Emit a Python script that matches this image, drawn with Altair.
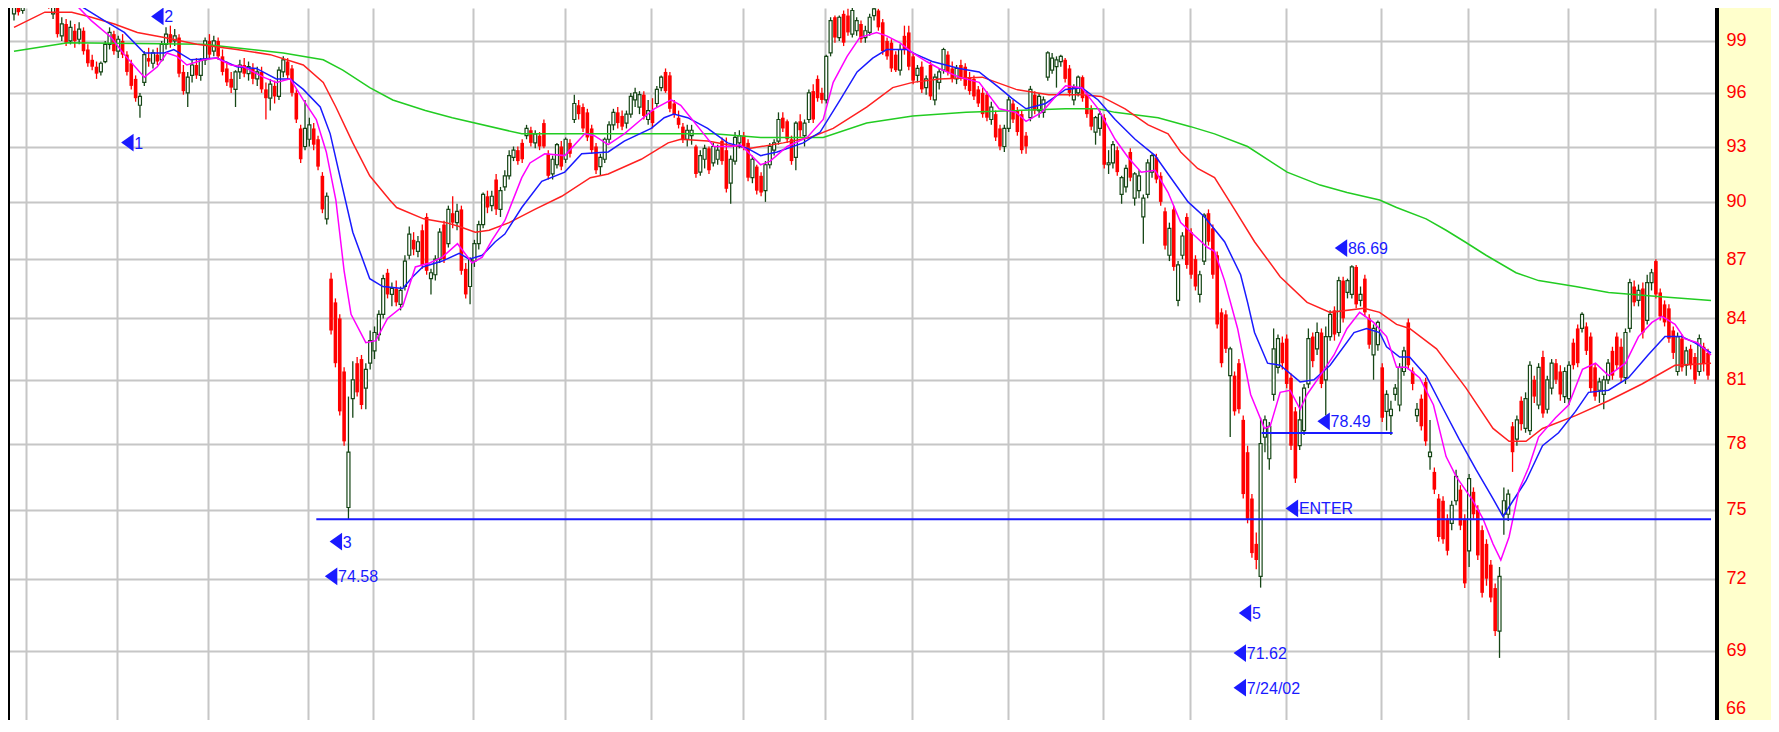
import altair as alt
import pandas as pd

# ---------------- data ----------------
opens = [100.6,101.0,100.8,101.6,102.2,102.5,102.0,102.4,101.8,100.6,101.1,99.3,100.0,99.0,99.6,99.1,99.6,98.5,97.9,97.5,
97.2,97.8,98.8,99.4,98.4,99.0,98.2,97.7,96.8,95.3,96.6,98.0,97.7,98.2,97.9,98.8,99.4,99.0,99.2,97.2,
96.0,97.0,97.6,97.0,97.9,99.0,98.4,99.0,98.1,97.4,96.8,96.2,97.2,97.6,97.1,97.4,96.8,97.2,96.2,95.7,
96.4,95.8,97.2,97.8,97.4,96.0,94.0,93.0,93.4,94.0,93.4,91.4,89.1,86.0,84.8,84.0,81.4,75.1,80.1,81.8,
82.0,80.6,81.8,82.4,83.2,84.2,86.3,85.2,85.5,84.7,85.6,87.2,88.0,87.4,88.5,89.2,86.0,86.2,87.0,88.8,
87.8,89.4,88.9,89.6,86.5,85.6,86.9,87.8,88.8,90.3,89.8,91.2,89.6,90.8,91.4,92.4,92.8,93.2,93.6,93.9,
93.2,93.6,94.3,92.6,91.5,92.0,93.0,92.3,93.2,94.5,95.3,95.2,94.9,94.0,93.0,91.9,92.3,93.4,94.2,94.9,
94.7,94.3,94.8,95.6,95.2,95.9,94.5,95.0,95.4,96.3,97.2,97.0,95.4,94.6,94.1,93.4,93.6,93.0,91.6,92.3,
92.9,92.1,92.3,93.3,92.8,91.0,92.2,93.2,93.6,93.2,91.3,91.9,91.4,90.6,92.0,92.8,93.3,94.6,94.4,93.4,
92.4,94.4,93.6,94.5,96.1,96.8,96.0,95.6,98.3,100.4,99.2,100.6,100.5,99.4,99.6,100.0,99.2,99.5,100.5,100.8,
100.1,99.0,98.9,98.2,97.3,99.3,99.5,98.1,97.0,97.5,96.3,97.6,95.6,96.6,97.3,98.2,97.4,96.8,97.6,97.5,
96.9,96.8,96.2,96.0,95.9,94.5,94.8,94.0,93.0,94.0,95.4,95.0,94.8,93.6,94.6,95.9,95.0,94.9,96.9,97.3,
97.5,97.8,97.9,97.4,95.6,96.0,96.9,95.9,95.1,93.8,94.0,94.6,92.0,92.1,92.8,90.4,90.8,92.7,90.2,90.6,
89.2,90.4,91.6,92.4,91.4,89.5,87.2,89.6,84.9,87.2,89.2,88.4,87.0,85.2,86.9,89.4,88.6,87.2,84.3,84.2,
81.2,81.2,81.8,79.1,77.6,75.5,73.5,72.1,78.3,77.3,80.3,81.6,82.8,83.0,81.1,79.5,77.9,78.6,80.8,83.1,
82.5,83.3,81.0,83.1,84.4,83.3,85.9,85.3,85.2,86.6,84.9,86.0,84.0,82.2,82.7,81.6,79.5,79.3,80.3,79.8,
81.4,83.8,81.4,79.3,80.1,80.9,77.4,76.7,75.5,75.4,74.6,74.4,75.4,75.9,74.6,73.2,75.8,75.0,74.1,73.5,
72.6,71.6,69.8,74.8,74.8,78.8,78.2,80.0,78.7,78.6,81.0,79.8,82.1,79.6,80.6,81.8,81.4,80.2,80.1,82.8,
83.5,83.5,83.6,83.1,81.6,80.5,80.3,81.0,82.4,83.1,82.6,81.1,83.5,85.6,84.9,85.5,83.9,85.8,86.9,85.3,
84.7,84.5,83.4,81.4,83.0,81.7,82.5,82.1,81.4,82.6,82.3]
highs = [101.6,101.8,102.0,102.6,103.0,103.2,102.8,102.9,102.2,101.6,101.3,100.4,100.3,100.2,100.0,100.1,99.8,98.8,98.2,97.8,
97.8,99.0,99.8,99.6,99.3,99.4,98.4,97.9,97.0,96.0,98.4,98.6,98.5,98.6,99.0,99.8,99.9,99.7,99.4,97.6,
97.2,97.9,98.0,98.0,99.2,99.4,99.3,99.2,98.5,97.8,97.2,97.3,97.9,98.0,97.8,97.7,97.5,97.5,96.6,96.8,
96.7,97.5,98.1,98.0,97.6,96.2,94.2,95.6,94.6,94.3,93.6,91.6,90.5,86.3,85.0,84.2,81.6,80.2,81.9,82.1,
82.2,81.8,83.4,83.6,84.4,86.2,86.5,85.8,85.9,85.6,87.2,88.7,88.4,88.2,88.8,89.4,86.5,87.2,88.6,89.0,
89.8,90.3,89.9,89.8,86.8,87.1,88.0,89.0,90.5,90.6,90.6,91.5,90.8,91.7,92.8,93.0,93.0,93.4,94.2,94.1,
93.9,93.8,94.5,92.8,92.5,93.2,93.3,93.5,93.4,95.9,95.6,95.4,95.1,94.2,93.2,92.6,93.5,94.4,95.1,95.2,
95.0,95.0,96.0,96.3,96.1,96.1,95.6,95.7,96.4,97.0,97.4,97.2,95.6,95.0,94.3,94.2,94.2,93.1,92.8,93.1,
93.0,93.2,93.1,93.5,93.5,92.5,93.8,93.9,93.8,93.4,92.5,92.0,91.6,92.2,93.2,93.4,94.9,94.9,94.5,93.6,
94.4,94.8,94.5,96.2,96.5,97.0,96.3,98.2,100.4,100.5,100.5,100.8,100.9,101.0,100.4,100.2,99.9,100.6,101.1,100.9,
100.3,99.2,99.1,98.4,98.8,99.9,99.9,98.3,97.6,97.8,97.0,97.8,97.1,97.4,98.6,98.4,97.8,97.6,97.9,97.7,
97.2,97.0,96.4,96.3,96.1,95.5,95.0,94.2,94.2,95.8,95.6,95.2,95.0,93.8,96.4,96.1,96.0,95.8,98.4,98.3,
98.1,98.2,98.0,97.6,96.5,97.0,97.0,96.1,95.3,94.7,95.0,94.8,92.8,93.3,93.0,91.4,92.0,92.9,91.6,91.7,
90.4,92.3,92.6,92.6,91.6,89.7,88.9,89.8,86.9,88.4,89.4,88.6,87.2,86.4,89.4,89.6,88.8,87.4,84.5,84.4,
82.6,81.4,82.0,79.3,77.9,75.7,74.0,79.2,79.3,79.0,83.5,83.2,83.1,83.2,81.3,79.7,80.2,80.8,83.5,83.3,
83.8,83.5,83.6,84.4,84.6,86.1,86.1,86.0,86.69,86.7,85.6,86.2,84.2,83.7,83.9,81.8,80.5,80.0,80.8,81.8,
82.6,84.0,81.6,79.9,80.3,81.1,79.1,76.9,75.7,75.6,74.8,75.4,76.8,76.1,74.8,76.6,76.0,75.2,74.3,73.7,
72.8,71.8,72.5,76.0,75.9,79.0,79.3,80.2,80.4,81.9,81.2,81.8,82.4,81.2,82.0,82.0,81.7,81.6,81.9,83.0,
83.7,84.3,83.8,83.3,81.8,81.1,81.2,82.0,82.6,83.3,83.0,83.5,86.0,85.9,85.7,85.8,86.2,86.5,87.0,85.5,
84.9,84.7,83.6,83.3,83.2,82.6,82.7,82.3,83.2,82.8,82.5]
lows = [100.2,100.5,100.6,101.2,101.8,101.9,101.5,101.6,100.9,100.3,99.2,99.0,98.7,98.8,98.6,98.8,98.2,97.5,97.3,96.8,
97.0,97.7,98.5,98.2,98.0,98.0,97.0,96.2,95.5,94.6,96.4,97.5,97.4,97.6,97.8,98.5,98.6,98.7,96.9,95.9,
95.2,96.6,96.8,96.7,97.6,98.0,98.1,97.9,97.0,96.4,96.0,95.2,96.8,96.9,96.7,96.5,96.4,96.0,94.5,95.0,
95.4,95.6,96.9,96.8,95.8,94.3,92.1,92.8,93.0,92.8,91.7,89.4,88.8,83.2,81.6,79.3,77.9,74.58,79.2,80.2,
79.6,79.6,81.5,82.0,82.9,84.0,85.0,84.6,84.6,84.4,85.4,87.0,87.2,87.1,86.5,86.2,85.2,85.9,86.8,86.8,
87.6,88.6,88.5,86.2,85.0,84.7,86.6,87.5,88.6,89.4,89.5,89.3,89.2,90.6,91.2,92.2,92.0,92.1,93.4,93.0,
92.9,92.8,92.9,91.2,91.2,91.8,91.7,92.1,92.4,94.3,94.5,93.8,93.3,92.6,91.5,91.4,92.1,93.2,93.9,94.0,
93.9,94.0,94.6,95.2,94.8,94.5,94.2,94.0,95.2,96.1,96.0,94.9,94.6,94.0,93.2,93.0,93.1,91.3,91.4,91.8,
91.5,91.9,92.0,92.0,90.5,89.9,92.0,92.9,92.8,91.1,91.0,90.4,90.3,90.0,91.8,92.5,93.1,93.8,93.2,92.0,
91.7,93.5,93.0,94.3,94.3,95.5,95.4,95.4,98.1,98.9,99.0,98.7,99.3,99.2,99.3,98.9,98.9,99.3,100.2,99.6,
98.2,97.9,97.2,97.2,97.0,98.2,97.3,96.5,96.6,96.0,95.9,95.6,95.3,96.2,97.1,97.0,96.6,96.5,96.7,96.2,
95.9,95.6,95.2,94.6,94.4,94.2,93.3,92.8,92.7,93.8,94.3,93.6,92.6,92.6,94.4,94.8,94.6,94.6,96.7,97.1,
96.3,97.5,96.6,95.8,95.3,95.8,95.5,94.6,93.9,93.1,93.6,91.8,91.5,91.8,91.4,89.9,90.5,91.1,89.8,90.2,
87.8,90.2,91.3,91.0,89.8,87.5,86.9,86.4,84.6,87.0,86.5,86.0,85.4,84.8,86.7,87.7,86.0,83.5,81.6,82.3,
78.3,79.3,79.4,75.5,74.4,72.9,72.4,71.62,77.6,76.8,80.0,81.3,81.5,80.6,77.7,76.2,77.7,78.4,80.6,81.6,
82.2,80.6,79.3,82.9,82.9,83.1,83.8,85.0,85.0,84.5,84.6,84.1,82.5,81.0,82.4,79.0,78.6,78.4,80.0,79.5,
81.2,81.5,80.5,79.0,78.6,77.9,76.8,75.7,73.6,73.5,73.0,74.1,75.2,74.1,71.6,72.5,74.6,72.8,71.2,71.7,
71.0,69.6,68.7,73.9,74.5,76.7,77.9,78.6,78.5,78.4,79.9,79.6,79.2,79.4,80.3,80.8,80.0,79.9,79.8,81.5,
81.6,83.3,82.2,80.4,80.0,79.9,79.6,80.8,81.0,81.5,80.9,80.8,83.3,84.6,84.6,83.0,83.7,85.4,85.0,83.9,
83.6,82.8,82.0,81.2,81.4,81.2,81.5,80.8,81.2,81.4,81.0]
closes = [101.0,100.7,101.6,102.2,102.5,102.1,102.4,101.8,101.2,101.3,99.4,100.0,98.9,99.8,99.0,99.7,98.4,97.7,97.5,97.1,
97.7,98.8,99.5,98.4,99.1,98.2,97.2,96.4,95.7,95.8,98.2,97.8,98.3,97.8,98.8,99.4,98.9,99.3,97.1,96.1,
96.9,97.6,97.0,97.9,99.0,98.2,99.0,98.1,97.2,96.6,96.3,97.2,97.6,97.1,97.5,96.8,97.2,96.2,95.7,96.5,
95.8,97.3,97.9,97.0,96.0,94.5,92.3,94.0,94.2,93.1,91.9,89.6,90.3,83.4,81.8,79.5,78.1,77.6,81.0,80.4,
79.8,81.5,82.9,83.3,84.2,86.0,85.2,85.5,84.8,85.4,86.9,88.3,87.5,87.9,86.7,86.4,86.3,87.0,88.4,87.0,
89.6,88.9,89.5,86.4,85.2,87.0,87.8,88.8,90.4,89.7,90.3,89.6,90.6,91.4,92.5,92.8,92.2,92.3,94.0,93.2,
93.7,93.0,93.0,91.4,92.3,93.1,91.9,93.4,92.6,95.4,94.8,94.0,93.5,92.8,91.7,92.4,93.4,94.2,94.9,94.3,
94.1,94.8,95.8,96.0,95.9,94.7,95.0,94.3,96.2,96.9,96.1,95.1,94.8,94.2,93.4,93.9,93.9,91.5,92.5,92.9,
91.7,93.0,92.8,92.2,90.7,92.3,93.5,93.6,93.0,91.3,92.3,90.6,90.5,92.0,93.0,93.2,94.5,94.0,93.4,92.2,
94.3,93.9,94.3,96.0,94.5,95.7,95.6,98.1,100.2,99.2,100.4,98.9,99.5,100.8,100.2,99.1,99.6,100.4,100.9,99.8,
98.4,98.1,97.4,97.3,98.5,98.5,97.5,96.7,97.4,96.2,96.8,95.8,96.9,97.2,98.5,97.2,96.8,97.4,96.9,96.4,
96.1,95.8,95.4,94.8,94.6,95.2,93.5,93.0,94.0,95.6,94.5,93.8,92.8,93.0,96.2,95.0,95.8,95.6,98.3,98.0,
97.9,98.1,96.8,96.0,96.3,96.9,95.7,94.8,94.1,94.6,94.8,92.0,92.1,93.1,91.6,91.3,91.8,91.3,91.5,91.4,
90.2,92.1,92.5,91.2,90.0,87.7,88.6,86.6,86.7,88.2,86.7,86.2,85.6,86.2,89.3,87.9,86.2,83.7,81.8,82.5,
82.5,79.5,79.6,75.7,74.6,73.1,72.8,78.0,79.1,78.8,82.5,83.0,81.8,80.8,77.9,76.4,79.1,80.6,83.0,81.9,
83.3,80.8,83.1,84.2,83.2,85.9,84.0,85.9,86.6,84.7,85.2,84.3,82.7,83.5,83.8,79.2,80.3,79.6,80.6,81.6,
82.4,81.7,80.8,79.6,78.8,78.1,77.6,75.9,73.8,73.7,73.2,75.2,76.5,74.3,71.8,76.4,74.8,73.0,71.4,72.0,
71.2,69.8,72.1,75.4,75.7,77.6,79.1,78.9,80.1,81.7,80.2,81.6,79.4,81.0,81.8,81.0,80.3,81.4,81.7,81.7,
81.8,84.2,82.4,80.6,80.2,80.9,81.0,81.8,81.2,81.7,81.1,83.3,85.8,84.8,85.4,83.3,85.8,86.3,85.2,84.1,
83.8,83.0,82.3,83.1,81.6,82.4,81.7,81.0,83.0,81.8,81.2]

# moving averages: (trading-day index, price)
ma10_t = [0,8,13.3,17.8,22.4,25.4,30.0,33.0,35.2,37.5,39.8,43.7,46.7,49.9,52.9,57.4,60.4,63.6,66.6,69.6,71.9,74.1,76.0,77.6,81.0,83.3,86.0,89.5,92.4,95.7,98.6,102.1,105.5,107.8,110.1,113.0,116.9,118.8,122.2,126.8,131.4,133.6,136.8,140.5,144.4,147.4,151.3,153.5,155.8,158.8,161.1,165.0,167.3,171.9,174.1,178.0,182.6,186.3,188.6,191.8,194.7,198.6,200.9,203.9,206.9,210.1,213.0,217.6,222.2,226.8,230.7,233.0,236.6,240.5,242.1,245.8,249.6,253.5,256.5,259.5,262.7,265.7,268.6,271.9,274.8,276.4,278.7,281.7,284.7,287.9,289.2,291.5,293.8,296.1,297.7,300.7,303.9,306.9,309.8,313.0,316.0,318.3,320.6,323.6,326.8,329.7,332.0,335.9,338.2,340.5,342.3,344.2,346.5,348.7,351.0,354.9,357.9,361.1,364.1,367.1,371.0,374.0,377.1,379.4,382.4,384.6,387.6,390.7]
ma10_v = [104.0,102.8,101.4,100.2,99.2,98.2,96.9,97.5,98.3,98.1,97.6,97.9,98.0,97.6,97.5,96.9,96.6,96.8,95.6,94.5,92.7,90.1,86.4,84.2,82.8,82.9,84.0,84.6,86.6,86.8,87.1,87.8,86.8,87.1,88.0,89.0,91.3,92.1,92.6,92.5,93.7,93.6,93.1,93.7,94.5,95.1,95.6,95.3,94.6,93.7,93.0,93.0,93.1,92.0,92.2,93.0,93.5,94.5,96.6,98.1,99.2,99.5,99.3,98.9,98.3,97.8,97.4,96.9,96.6,95.1,94.9,94.4,94.9,96.0,96.4,96.3,95.1,93.4,92.4,91.6,91.7,90.5,88.9,88.2,87.6,87.4,85.9,83.5,80.3,78.7,78.8,80.4,80.5,79.6,80.3,81.2,82.2,83.5,84.3,83.8,83.1,81.6,81.6,81.1,79.8,77.4,76.5,75.4,74.6,73.5,72.8,73.8,75.9,76.9,78.3,79.2,79.8,81.5,81.8,81.2,81.8,83.1,83.8,84.1,83.7,83.0,82.8,82.2]
ma20_t = [0,8,13.3,20.8,25.4,30.0,34.6,36.8,40.7,46.7,51.3,55.8,60.4,63.6,66.6,70.5,72.8,75.1,78.0,81.9,84.9,89.5,91.8,94.1,98.6,102.5,104.8,107.8,110.8,113.0,116.9,121.5,126.8,130.7,136.8,140.5,146.7,149.7,151.9,155.1,159.7,164.3,168.9,171.9,175.7,181.7,185.6,190.2,194.1,197.7,200.9,205.5,207.8,211.4,217.6,222.2,226.8,229.7,233.0,237.5,242.1,245.8,249.6,253.5,258.1,262.7,265.7,270.3,274.1,278.7,282.4,284.0,285.6,288.6,291.5,296.1,299.3,303.0,308.5,311.4,314.4,316.0,319.0,321.3,325.1,329.1,332.7,336.6,340.5,342.8,345.1,348.1,351.9,355.6,359.5,362.5,367.1,371.7,376.2,380.1,383.9,386.9,390.7]
ma20_v = [104.0,102.6,101.4,100.2,99.5,98.3,98.3,98.5,97.9,98.0,97.5,97.4,96.8,96.8,96.2,95.2,93.7,91.3,88.4,86.0,85.6,85.5,86.1,86.6,86.9,87.3,87.0,87.2,87.9,88.3,89.7,91.1,91.6,92.6,92.7,93.3,94.0,94.6,94.8,94.6,94.0,93.2,92.9,92.5,92.7,93.2,93.8,95.6,97.2,98.0,98.5,98.5,98.2,97.8,97.4,97.2,96.3,95.7,95.1,95.4,96.2,96.3,95.6,94.5,93.4,92.5,91.5,90.0,89.2,87.9,86.2,84.8,83.3,81.8,81.7,80.9,81.0,81.7,83.3,83.5,83.3,82.6,82.1,82.1,81.2,79.6,78.2,76.8,75.5,74.7,75.4,76.3,77.9,78.5,79.5,80.4,80.5,81.1,82.2,83.1,83.1,82.8,82.3]
ma50_t = [0,7.1,13.3,17.8,23.1,28.4,34.6,42.1,51.3,59.0,66.6,71.2,74.1,78.0,81.9,86.5,88.1,94.3,99.5,102.5,106.2,109.4,114.0,119.9,126.1,132.7,136.8,144.4,150.6,153.5,159.7,164.3,169.6,177.1,183.3,188.6,196.3,202.3,206.9,213.0,222.9,230.7,238.2,245.8,250.3,255.8,261.1,265.7,268.6,272.5,276.4,281.0,285.6,291.5,297.7,303.0,310.8,314.4,318.3,321.3,327.5,334.3,340.5,344.2,348.1,351.9,359.5,367.1,374.8,382.4,390.7]
ma50_v = [99.8,100.7,100.7,100.4,100.0,99.5,99.2,98.8,98.5,98.2,97.6,96.6,95.2,93.2,91.4,90.1,89.7,89.1,88.9,88.7,88.4,88.5,88.9,89.6,90.3,91.3,91.5,92.3,93.2,93.4,93.3,93.1,92.9,93.2,93.5,94.0,95.2,96.3,96.6,96.8,96.9,96.2,95.9,95.9,95.8,95.1,94.2,93.7,92.7,91.8,91.3,89.6,87.9,86.1,84.8,84.3,84.5,84.3,83.7,83.5,82.5,80.6,78.7,78.1,78.1,78.7,79.3,80.0,80.8,81.7,81.8]
ma200_t = [0,12.4,43.7,62.0,71.2,75.7,81.9,87.2,94.7,100.9,116.9,135.2,161.1,171.9,186.3,196.3,206.9,219.2,242.1,249.6,253.5,263.4,270.9,276.4,284.0,293.1,300.7,306.9,314.4,318.3,325.1,329.7,334.0,338.9,345.8,351.0,359.5,367.1,378.5,390.7]
ma200_v = [98.4,98.9,98.8,98.3,97.9,97.3,96.3,95.6,95.0,94.6,93.7,93.7,93.7,93.5,93.5,94.3,94.7,94.9,95.1,95.1,94.9,94.6,94.1,93.7,93.0,91.6,90.9,90.5,90.1,89.7,89.1,88.5,87.9,87.2,86.3,85.9,85.6,85.3,85.1,84.9]

month_starts = [3, 24, 45, 68, 83, 106, 127, 147, 168, 187, 207, 229, 251, 271, 293, 315, 335, 358, 378]
price_ticks = [69, 72, 75, 78, 81, 84, 87, 90, 93, 96, 99]
bottom_tick = [66]

support_from = [69.6, 287.2]
support_to = [390.7, 317.4]
support_level = [74.58, 78.49]

ann_text = ["1", "2", "3", "74.58", "86.69", "78.49", "ENTER", "5", "71.62", "7/24/02"]
ann_t = [26.1, 33.0, 74.1, 73.0, 305.5, 301.5, 294.2, 283.4, 282.2, 282.2]
ann_v = [93.22, 100.45, 73.6, 72.1, 87.57, 79.03, 75.06, 70.55, 68.9, 67.5]

# ---------------- chart ----------------
W, H = 1708, 712
FONT = "Liberation Sans"
UP = "#164616"
DOWN = "#ff0000"
BLUE = "#1a1aff"

candles = pd.DataFrame({"t": list(range(len(closes))), "open": opens, "high": highs,
                        "low": lows, "close": closes})

xs = alt.Scale(domain=[-0.229, 390.689], nice=False, zero=False)
ys = alt.Scale(type="log", domain=[66.22, 100.95], nice=False, zero=False)
xaxis = alt.Axis(values=[m - 0.25 for m in month_starts], labels=False, ticks=False,
                 domain=False, grid=True, title=None, gridColor="#c6c6c6", gridWidth=2)
yaxis = alt.Axis(values=price_ticks, orient="right", ticks=False, tickSize=0, domain=False,
                 grid=True, gridColor="#c6c6c6", gridWidth=2, title=None,
                 labelColor="#ff0000", labelFont=FONT, labelFontSize=18, labelPadding=10,
                 labelFlush=False, labelOverlap=False, labelBound=False)

X = alt.X("t:Q", scale=xs, axis=xaxis)
base = alt.Chart(candles)

wicks = base.mark_rule(strokeWidth=1.3, clip=True).encode(
    x=X,
    y=alt.Y("low:Q", scale=ys, axis=yaxis),
    y2="high:Q",
    color=alt.condition("datum.close >= datum.open", alt.value(UP), alt.value(DOWN)),
)
up_bodies = base.transform_filter("datum.close >= datum.open").mark_bar(
    size=3, fill="white", stroke=UP, strokeWidth=1.2, clip=True
).encode(x=X, y=alt.Y("open:Q", scale=ys, axis=yaxis), y2="close:Q")
down_bodies = base.transform_filter("datum.close < datum.open").mark_bar(
    size=3.6, fill=DOWN, strokeWidth=0, clip=True
).encode(x=X, y=alt.Y("open:Q", scale=ys, axis=yaxis), y2="close:Q")


def ma_layer(ts, vs, color):
    d = pd.DataFrame({"t": ts, "v": vs})
    return alt.Chart(d).mark_line(color=color, strokeWidth=1.5, clip=True).encode(
        x=X, y=alt.Y("v:Q", scale=ys, axis=yaxis))


ma200 = ma_layer(ma200_t, ma200_v, "#22cc22")
ma50 = ma_layer(ma50_t, ma50_v, "#ff2020")
ma20 = ma_layer(ma20_t, ma20_v, BLUE)
ma10 = ma_layer(ma10_t, ma10_v, "#ff00ff")

supp = alt.Chart(pd.DataFrame({"t0": support_from, "t1": support_to, "v": support_level})).mark_rule(
    color=BLUE, strokeWidth=2, clip=True
).encode(x=alt.X("t0:Q", scale=xs, axis=xaxis), x2="t1:Q", y=alt.Y("v:Q", scale=ys, axis=yaxis))

ann = pd.DataFrame({"t": ann_t, "v": ann_v, "label": ann_text})
tri = alt.Chart(ann).mark_point(
    shape="M 0.7 -1 L -0.7 0 L 0.7 1 Z", filled=True, size=315, color=BLUE, opacity=1, strokeWidth=0
).encode(x=X, y=alt.Y("v:Q", scale=ys, axis=yaxis))
txt = alt.Chart(ann).mark_text(
    align="left", baseline="middle", dx=7, dy=1, font=FONT, fontSize=16, color=BLUE
).encode(x=X, y=alt.Y("v:Q", scale=ys, axis=yaxis), text="label:N")

# lowest price-axis label, kept just inside the lower edge
low_lbl = alt.Chart(pd.DataFrame({"v": bottom_tick})).mark_text(
    align="left", baseline="bottom", dy=-8, font=FONT, fontSize=18, color="#ff0000"
).encode(x=alt.value(W + 10), y=alt.Y("v:Q", scale=ys, axis=yaxis), text=alt.Text("v:Q"))

one = pd.DataFrame({"k": [0]})
left_border = alt.Chart(one).mark_rule(color="black", strokeWidth=2).encode(
    x=alt.value(1), y=alt.value(0), y2=alt.value(H))
right_border = alt.Chart(one).mark_rule(color="black", strokeWidth=4).encode(
    x=alt.value(W + 1), y=alt.value(0), y2=alt.value(H))

chart = alt.layer(
    wicks, down_bodies, up_bodies, ma200, ma50, ma20, ma10, supp, tri, txt, low_lbl,
    left_border, right_border
).properties(
    width=W, height=H,
    autosize=alt.AutoSizeParams(type="none"),
    padding={"left": 0, "top": 0, "right": 55, "bottom": 0},
    background="#ffffcc",
).configure_view(fill="white", stroke=None)

chart.save("out.html", embed_options={"renderer": "svg", "actions": False})
